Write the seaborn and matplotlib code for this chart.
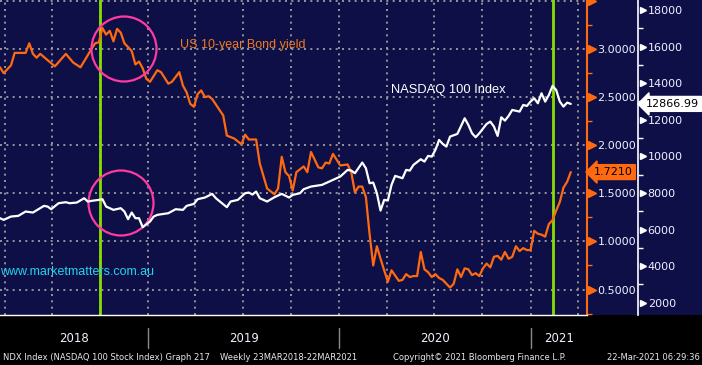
import numpy as np
import pandas as pd
import matplotlib
matplotlib.use("Agg")
import matplotlib.pyplot as plt
import matplotlib.dates as mdates
import matplotlib.ticker as mticker
import matplotlib.transforms as mtransforms
from matplotlib.patches import Ellipse, Rectangle
import seaborn as sns

# ---------------- data (weekly, weeks since 23-Mar-2018) ----------------
START = "2018-03-23"
yield_weeks = [0, 1, 3, 4, 7, 8, 9, 10, 11, 15,
               18, 20, 22, 25, 26, 27, 28, 29, 30, 31,
               32, 33, 34, 35, 36, 37, 38, 39, 40, 41,
               43, 44, 46, 47, 49, 50, 51, 52, 53, 54,
               55, 56, 57, 58, 61, 62, 64, 66, 67, 68,
               70, 71, 73, 75, 76, 77, 78, 79, 80, 81,
               83, 84, 85, 87, 88, 89, 90, 91, 93, 95,
               96, 97, 98, 99, 100, 101, 102, 103, 104, 105,
               106, 107, 109, 110, 111, 112, 113, 114, 115, 116,
               117, 118, 119, 120, 121, 123, 124, 125, 126, 127,
               128, 129, 130, 131, 132, 133, 134, 135, 136, 137,
               138, 139, 140, 141, 142, 143, 144, 145, 146, 147,
               148, 149, 150, 151, 152, 153, 154, 155, 156]
yield_values = [2.81, 2.75, 2.83, 2.96, 2.96, 3.06, 2.95, 2.91, 2.95, 2.82,
                2.95, 2.86, 2.81, 3.00, 3.06, 3.07, 3.22, 3.15, 3.19, 3.08,
                3.21, 3.17, 3.06, 3.02, 2.98, 2.84, 2.87, 2.80, 2.69, 2.66,
                2.78, 2.76, 2.64, 2.66, 2.76, 2.62, 2.55, 2.43, 2.40, 2.53,
                2.57, 2.50, 2.51, 2.48, 2.31, 2.10, 2.07, 2.01, 2.11, 2.06,
                2.06, 1.81, 1.55, 1.49, 1.55, 1.88, 1.72, 1.68, 1.53, 1.72,
                1.78, 1.72, 1.93, 1.77, 1.76, 1.82, 1.81, 1.91, 1.79, 1.80,
                1.72, 1.51, 1.57, 1.57, 1.46, 1.08, 0.75, 0.95, 0.82, 0.70,
                0.58, 0.70, 0.59, 0.60, 0.66, 0.63, 0.64, 0.64, 0.89, 0.71,
                0.68, 0.63, 0.66, 0.62, 0.60, 0.52, 0.56, 0.71, 0.63, 0.72,
                0.71, 0.65, 0.67, 0.64, 0.72, 0.77, 0.73, 0.84, 0.85, 0.81,
                0.89, 0.82, 0.84, 0.95, 0.90, 0.93, 0.91, 0.91, 1.11, 1.08,
                1.07, 1.05, 1.18, 1.22, 1.32, 1.41, 1.56, 1.62, 1.721]

ndx_weeks = [0, 1, 3, 5, 7, 9, 12, 13, 14, 16,
             18, 19, 21, 23, 24, 25, 27, 28, 29, 31,
             33, 34, 35, 36, 37, 38, 39, 41, 42, 43,
             46, 48, 50, 51, 53, 54, 56, 58, 59, 62,
             63, 65, 66, 67, 68, 69, 70, 71, 73, 75,
             77, 79, 80, 82, 83, 85, 88, 90, 92, 93,
             94, 95, 96, 97, 99, 100, 101, 102, 103, 104,
             105, 106, 107, 108, 110, 111, 112, 113, 115, 116,
             117, 118, 119, 120, 121, 122, 123, 125, 127, 128,
             129, 130, 131, 133, 134, 135, 136, 137, 138, 139,
             140, 142, 143, 144, 145, 146, 147, 148, 149, 150,
             151, 152, 153, 154, 155, 156]
ndx_values = [6618, 6527, 6710, 6746, 6983, 6928, 7292, 7256, 7110, 7438,
              7493, 7438, 7474, 7711, 7529, 7566, 7620, 7657, 7256, 7074,
              7165, 6983, 6564, 6928, 6618, 6618, 6127, 6436, 6710, 6801,
              6892, 7110, 7074, 7292, 7401, 7657, 7748, 7948, 7711, 7220,
              7529, 7620, 7802, 7985, 8020, 7911, 8075, 7711, 7529, 7766,
              7948, 7748, 7893, 7985, 8203, 8349, 8440, 8622, 8804, 8895,
              9077, 9259, 9222, 9077, 9660, 9350, 8530, 8567, 7985, 7037,
              7620, 7584, 8440, 8932, 8804, 9259, 9222, 9532, 9842, 9714,
              10024, 9987, 10352, 10898, 10680, 10534, 11080, 11226, 12081, 11718,
              11262, 11044, 11262, 11772, 11900, 11626, 11116, 12136, 11954, 12209,
              12537, 12446, 12810, 12755, 12992, 13174, 12901, 13447, 12992, 13356,
              13848, 13630, 12992, 12719, 12937, 12867]

yield_ticks = [0.5, 1.0, 1.5, 2.0, 2.5, 3.0, 3.5]
ndx_ticks = [2000, 4000, 6000, 8000, 10000, 12000, 14000, 16000, 18000]
years = [2018, 2019, 2020, 2021]
marker_dates = ["2018-10-01", "2021-02-12"]
last_yield_label = "1.7210"
last_ndx_label = "12866.99"
last_yield = 1.7210
last_ndx = 12866.99

# ---------------- styling ----------------
sns.set_style("dark")
plt.rcParams["font.family"] = ["DejaVu Sans"]

NAVY = "#0f0f48"
ORANGE = "#ff6a10"
ORANGE_TXT = "#ee7a1c"
GRID = "#a8a8a8"
TXT = "#f0f0ff"
GREEN = "#88dd00"
PINK = "#ff3aa0"
CYAN = "#22d4e6"

W, H = 702, 365
fig = plt.figure(figsize=(W / 100, H / 100), dpi=100, facecolor="black")
ax = fig.add_axes([0, 50 / H, 587 / W, 315 / H])
fig.patches.append(Rectangle((587 / W, 50 / H), 115 / W, 315 / H,
                             transform=fig.transFigure, facecolor=NAVY,
                             edgecolor="none", zorder=-10))
ax.set_facecolor(NAVY)
ax2 = ax.twinx()

start = pd.Timestamp(START)
df_y = pd.DataFrame({"date": start + pd.to_timedelta(np.array(yield_weeks) * 7, unit="D"),
                     "yield": yield_values})
df_n = pd.DataFrame({"date": start + pd.to_timedelta(np.array(ndx_weeks) * 7, unit="D"),
                     "ndx": ndx_values})

sns.lineplot(data=df_y, x="date", y="yield", ax=ax, color=ORANGE, linewidth=1.6, zorder=3)
sns.lineplot(data=df_n, x="date", y="ndx", ax=ax2, color="white", linewidth=1.6, zorder=3)

x0 = start
x1 = start + pd.Timedelta(days=1123)
ax.set_xlim(x0, x1)
ax.set_ylim(0.235, 3.51)
ax2.set_ylim(1327, 18547)
for a in (ax, ax2):
    a.set_xlabel("")
    a.set_ylabel("")

# spines
for s in ["left", "top"]:
    ax.spines[s].set_visible(False)
    ax2.spines[s].set_visible(False)
ax2.spines["bottom"].set_visible(False)
ax.spines["right"].set_color(ORANGE)
ax.spines["right"].set_linewidth(1.5)
ax.spines["bottom"].set_color("white")
ax.spines["bottom"].set_linewidth(1.0)
ax2.spines["right"].set_position(("axes", 638 / 587))
ax2.spines["right"].set_color("white")
ax2.spines["right"].set_linewidth(1.2)

# x axis: quarterly grid, monthly ticks
ax.xaxis.set_major_locator(mdates.MonthLocator(bymonth=[1, 4, 7, 10]))
ax.xaxis.set_minor_locator(mdates.MonthLocator())
ax.xaxis.set_major_formatter(mticker.NullFormatter())
ax.tick_params(axis="x", which="both", direction="out", length=3, width=1,
               color="white", labelbottom=False)

# yield axis (right, orange)
ax.yaxis.tick_right()
ax.yaxis.set_major_locator(mticker.FixedLocator(yield_ticks))
ax.yaxis.set_minor_locator(mticker.MultipleLocator(0.25))
ax.yaxis.set_major_formatter(mticker.FuncFormatter(
    lambda v, p: "" if v > 3.4 else f"{v:.4f}"))
ax.tick_params(axis="y", which="major", length=0, pad=7.5, labelsize=8,
               labelcolor=TXT, right=True, left=False)
ax.tick_params(axis="y", which="minor", length=3.5, width=1, color=ORANGE,
               direction="out", right=True, left=False)

# ndx axis
ax2.yaxis.set_major_locator(mticker.FixedLocator(ndx_ticks))
ax2.yaxis.set_minor_locator(mticker.MultipleLocator(1000))
ax2.tick_params(axis="y", which="major", length=0, pad=7, labelsize=8, labelcolor=TXT)
ax2.tick_params(axis="y", which="minor", length=3.5, width=1, color="white",
                direction="out")

# grid
ax.grid(True, which="major", axis="both", color=GRID, linestyle=(0, (1.2, 2.6)),
        linewidth=1.2, zorder=1)
ax2.grid(False)
ax.set_axisbelow(True)

# triangle tick markers
tr_y = mtransforms.blended_transform_factory(ax.transAxes, ax.transData) + \
    mtransforms.ScaledTranslation(0.05, 0, fig.dpi_scale_trans)
ax.plot([1.0] * len(yield_ticks), yield_ticks, ls="none", marker=">", ms=5.5,
        color=ORANGE, mec=ORANGE, transform=tr_y, clip_on=False)
tr_n = mtransforms.blended_transform_factory(ax2.transAxes, ax2.transData) + \
    mtransforms.ScaledTranslation(0.045, 0, fig.dpi_scale_trans)
ax2.plot([638 / 587] * len(ndx_ticks), ndx_ticks, ls="none", marker=">", ms=5,
         color="white", mec="white", transform=tr_n, clip_on=False)
ax.set_xlim(x0, x1)
ax.set_ylim(0.235, 3.51)
ax2.set_ylim(1327, 18547)

# green vertical markers
for d in marker_dates:
    ax.axvline(pd.Timestamp(d), color=GREEN, linewidth=2, zorder=2)

# pink circles
for (cx, cy) in [(124, 49), (121, 203)]:
    ax.add_patch(Ellipse((cx / 587, 1 - cy / 315), 65 / 587, 65 / 315,
                         transform=ax.transAxes, fill=False, edgecolor=PINK,
                         linewidth=1.6, zorder=5))

# annotations
ax.text(180 / 587, 1 - 45 / 315, "US 10-year Bond yield", transform=ax.transAxes,
        color=ORANGE_TXT, fontsize=9, family="Liberation Sans", va="center", ha="left")
ax.text(391 / 587, 1 - 90 / 315, "NASDAQ 100 Index", transform=ax.transAxes,
        color="white", fontsize=9.3, family="Liberation Sans", va="center", ha="left")
ax.text(0.0, 1 - 272 / 315, "www.marketmatters.com.au", transform=ax.transAxes,
        color=CYAN, fontsize=9, family="Liberation Sans", va="center", ha="left", zorder=6)

# last-value boxes
ax2.text(646 / 587, last_ndx, last_ndx_label,
         transform=mtransforms.blended_transform_factory(ax2.transAxes, ax2.transData),
         ha="left", va="center", fontsize=8, color="black", zorder=10, clip_on=False,
         bbox=dict(boxstyle="larrow,pad=0.22", fc="white", ec="white"))
ax.text(594 / 587, last_yield, last_yield_label,
        transform=mtransforms.blended_transform_factory(ax.transAxes, ax.transData),
        ha="left", va="center", fontsize=8, color="black", zorder=10, clip_on=False,
        bbox=dict(boxstyle="larrow,pad=0.22", fc=ORANGE, ec=ORANGE))

# year labels and separators
blend_x = mtransforms.blended_transform_factory(ax.transData, ax.transAxes)
for yr in years:
    a = max(pd.Timestamp(f"{yr}-01-01"), x0)
    b = min(pd.Timestamp(f"{yr + 1}-01-01"), x1)
    mid = a + (b - a) / 2
    ax.text(mid, -23 / 315, str(yr), transform=blend_x, ha="center", va="center",
            fontsize=8.5, color=TXT, clip_on=False)
    if yr > years[0]:
        ax.plot([pd.Timestamp(f"{yr}-01-01")] * 2, [-13 / 315, -33 / 315],
                transform=blend_x, color="#8a8a8a", linewidth=1, clip_on=False)
ax.set_xlim(x0, x1)

# footer
fy = 8 / H
FS = 6.0
fig.text(3 / W, fy, "NDX Index (NASDAQ 100 Stock Index) Graph 217", fontsize=FS,
         color="#e8e8e8", va="center", ha="left")
fig.text(220 / W, fy, "Weekly 23MAR2018-22MAR2021", fontsize=FS,
         color="#e8e8e8", va="center", ha="left")
fig.text(393 / W, fy, "Copyright\u00a9 2021 Bloomberg Finance L.P.", fontsize=FS,
         color="#e8e8e8", va="center", ha="left")
fig.text(700 / W, fy, "22-Mar-2021 06:29:36", fontsize=FS,
         color="#e8e8e8", va="center", ha="right")

fig.savefig("out.png", dpi=100, facecolor="black")
